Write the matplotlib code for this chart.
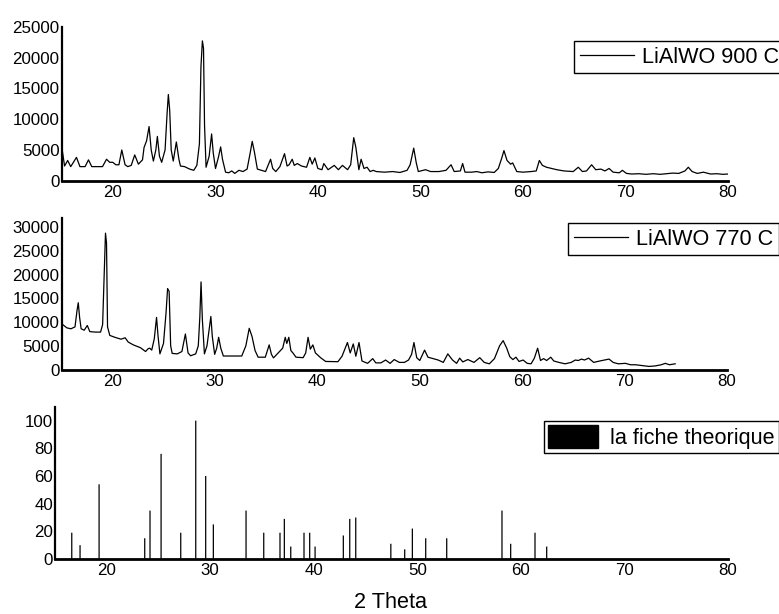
import matplotlib
matplotlib.use('Agg')
import matplotlib.pyplot as plt
from matplotlib import font_manager
from matplotlib.patches import Patch

# ---------------- data ----------------
two_theta_900 = [15.07, 15.3, 15.6, 15.9, 16.46, 16.8, 17.3, 17.63, 17.95, 19.0, 19.39, 19.7, 20.0, 20.3,
                 20.6, 20.88, 21.2, 21.46, 21.8, 22.14, 22.5, 22.9, 23.05, 23.3, 23.54, 23.75, 23.96, 24.2,
                 24.35, 24.55, 24.77, 25.1, 25.3, 25.42, 25.55, 25.7, 25.9, 26.2, 26.45, 26.6, 27.0, 27.5,
                 27.9, 28.2, 28.45, 28.6, 28.74, 28.85, 28.95, 29.1, 29.4, 29.64, 29.8, 30.02, 30.3, 30.52,
                 30.7, 31.0, 31.3, 31.6, 31.9, 32.3, 32.7, 33.1, 33.4, 33.6, 33.8, 34.1, 34.5, 34.9, 35.39,
                 35.6, 35.9, 36.3, 36.75, 37.0, 37.2, 37.5, 37.7, 38.0, 38.4, 38.9, 39.22, 39.45, 39.71, 40.0,
                 40.4, 40.58, 41.0, 41.6, 42.0, 42.4, 42.9, 43.2, 43.5, 43.7, 44.0, 44.22, 44.5, 44.8, 45.1,
                 45.4, 45.7, 46.5, 47.3, 48.0, 48.7, 49.0, 49.35, 49.6, 49.8, 50.5, 51.0, 51.8, 52.5, 52.99,
                 53.3, 53.9, 54.12, 54.35, 55.0, 55.5, 56.0, 56.6, 57.2, 57.6, 57.9, 58.15, 58.45, 58.8, 59.0,
                 59.4, 60.0, 60.8, 61.3, 61.6, 61.9, 62.3, 62.8, 63.3, 64.0, 64.9, 65.4, 65.8, 66.2, 66.7,
                 67.1, 67.6, 68.0, 68.4, 68.8, 69.4, 69.7, 70.1, 70.6, 71.3, 72.0, 72.7, 73.4, 74.0, 74.6,
                 75.2, 75.8, 76.13, 76.5, 77.0, 77.6, 78.3, 78.9, 79.5, 80.0]
intensity_900 = [5000, 2400, 3300, 2300, 3800, 2300, 2300, 3400, 2300, 2300, 3500, 3000, 3000, 2600,
                 2600, 5000, 2600, 2300, 2500, 4200, 2700, 3400, 5400, 6500, 8800, 5000, 3200, 5000,
                 7200, 4000, 3000, 5000, 11000, 14000, 11500, 5000, 3200, 6300, 3500, 2400, 2300, 1900,
                 1700, 2500, 6000, 18500, 22700, 21500, 9000, 2200, 4000, 7600, 4500, 2000, 3800, 5500,
                 3500, 1400, 1300, 1600, 1200, 1700, 1500, 1900, 4500, 6400, 4800, 1900, 1700, 1500, 3500,
                 2000, 1500, 2300, 4400, 2400, 2600, 3500, 2500, 2800, 2400, 2200, 3800, 2700, 3700, 2000,
                 1800, 2800, 1800, 2500, 1800, 2500, 1800, 2600, 7000, 5500, 1800, 3500, 2000, 2200, 1500,
                 1700, 1500, 1400, 1500, 1350, 1700, 2600, 5300, 2900, 1500, 1800, 1500, 1500, 1700, 2600,
                 1500, 1600, 2800, 1400, 1400, 1500, 1300, 1450, 1350, 2000, 3500, 4900, 3300, 2700, 2900,
                 1500, 1400, 1500, 1600, 3300, 2500, 2200, 2000, 1800, 1600, 1500, 2200, 1500, 1600, 2600,
                 1800, 1900, 1600, 2000, 1400, 1300, 1700, 1200, 1100, 1150, 1050, 1150, 1050, 1150, 1250,
                 1200, 1600, 2200, 1500, 1200, 1400, 1100, 1150, 1050, 1100]

two_theta_770 = [15.15, 15.5, 15.9, 16.3, 16.5, 16.62, 16.75, 16.9, 17.2, 17.5, 17.75, 18.3, 18.8, 19.0,
                 19.15, 19.28, 19.38, 19.48, 19.7, 20.2, 20.8, 21.2, 21.5, 22.0, 22.7, 23.2, 23.45, 23.6,
                 23.8, 24.05, 24.27, 24.42, 24.6, 24.95, 25.2, 25.35, 25.5, 25.65, 25.8, 26.3, 26.75, 27.09,
                 27.35, 27.6, 28.1, 28.35, 28.5, 28.62, 28.75, 28.95, 29.2, 29.58, 29.72, 29.95, 30.15,
                 30.34, 30.55, 30.8, 32.6, 33.0, 33.33, 33.6, 33.9, 34.2, 34.9, 35.28, 35.5, 35.7, 36.3,
                 36.6, 36.85, 37.0, 37.2, 37.4, 37.6, 37.9, 38.6, 38.85, 39.08, 39.3, 39.55, 39.8, 40.3,
                 40.8, 42.0, 42.4, 42.93, 43.2, 43.5, 43.75, 44.06, 44.35, 44.9, 45.4, 45.7, 46.2, 46.66,
                 47.1, 47.5, 48.0, 48.5, 48.9, 49.2, 49.43, 49.7, 50.0, 50.47, 50.8, 51.3, 51.8, 52.3,
                 52.74, 53.2, 53.6, 53.9, 54.2, 54.7, 55.3, 55.86, 56.3, 56.8, 57.3, 57.8, 58.15, 58.5,
                 58.8, 59.1, 59.4, 59.7, 60.1, 60.5, 60.88, 61.2, 61.52, 61.8, 62.1, 62.4, 62.8, 63.1,
                 63.6, 64.2, 64.8, 65.2, 65.5, 65.8, 66.1, 66.5, 67.0, 67.6, 68.5, 68.9, 69.4, 70.1, 70.6,
                 71.1, 71.8, 72.4, 73.0, 73.6, 74.0, 74.4, 74.96]
intensity_770 = [9400, 8800, 8600, 9000, 12500, 14100, 11000, 8600, 8300, 9300, 8000, 7900, 7900, 9500,
                 20000, 28800, 26700, 9000, 7200, 6800, 6400, 6700, 5800, 5200, 4600, 3800, 4400, 4500,
                 4100, 6500, 11000, 7000, 3300, 5500, 12000, 17100, 16500, 5000, 3400, 3300, 3800, 7500,
                 3500, 2900, 3300, 5000, 11000, 18500, 10500, 3300, 5000, 11200, 7000, 3200, 4500,
                 6800, 4500, 2850, 2850, 5000, 8700, 7000, 4000, 2600, 2600, 5200, 3200, 2450, 3800,
                 4500, 6800, 5500, 6800, 4000, 3500, 2600, 2500, 3500, 6800, 4300, 5200, 3500, 2500,
                 1700, 1650, 2800, 5700, 3500, 5400, 2800, 5700, 1800, 1300, 2300, 1400, 1400, 2000,
                 1300, 2100, 1500, 1500, 2000, 3200, 5700, 2500, 1900, 4100, 2600, 2300, 2000, 1500,
                 3300, 2000, 1300, 2400, 1600, 2100, 1500, 2500, 1500, 1200, 2300, 5000, 6100, 4500,
                 2700, 2100, 2600, 1700, 2000, 1300, 1200, 2400, 4500, 1900, 2300, 1900, 2600, 1800,
                 1500, 1200, 1500, 2000, 1900, 2200, 2000, 2400, 1500, 1800, 2200, 1500, 1200, 1300, 1000,
                 1000, 800, 650, 750, 1000, 1300, 1000, 1200]

ref_positions = [16.62, 17.42, 19.26, 23.67, 24.18, 25.25, 27.15, 28.6, 29.56, 30.3, 33.46, 35.17,
                 36.74, 37.16, 37.78, 39.06, 39.61, 40.13, 42.86, 43.48, 44.06, 47.45, 48.79, 49.53,
                 50.82, 52.85, 58.19, 59.03, 61.38, 62.51]
ref_heights = [19, 10, 54, 15, 35, 76, 19, 100, 60, 25, 35, 19,
               19, 29, 9, 19, 19, 9, 17, 29, 30, 11, 7, 22,
               15, 15, 35, 11, 19, 9]

x_ticks = [20, 30, 40, 50, 60, 70, 80]
y_ticks_900 = [0, 5000, 10000, 15000, 20000, 25000]
y_ticks_770 = [0, 5000, 10000, 15000, 20000, 25000, 30000]
y_ticks_ref = [0, 20, 40, 60, 80, 100]
label_900 = 'LiAlWO 900 C'
label_770 = 'LiAlWO 770 C'
label_ref = 'la fiche theorique'
x_label = '2 Theta'

# ---------------- fonts ----------------
names = {f.name for f in font_manager.fontManager.ttflist}
if 'Liberation Sans Narrow' in names:
    FAM, SC = 'Liberation Sans Narrow', 1.0
else:
    FAM, SC = 'Liberation Sans', 0.84
plt.rcParams['font.family'] = [FAM, 'DejaVu Sans']
tick_fs = 14.5 * SC
leg_fs = 18.5 * SC

W, H = 779, 614
fig = plt.figure(figsize=(W / 100, H / 100), dpi=100)


def rect(left, right, bottom, top):
    return [left / W, 1 - bottom / H, (right - left) / W, (bottom - top) / H]


def style(ax, yticks, ylim):
    ax.set_xlim(15, 80)
    ax.set_ylim(*ylim)
    ax.set_xticks(x_ticks)
    ax.set_yticks(yticks)
    for s in ['top', 'right']:
        ax.spines[s].set_visible(False)
    ax.spines['left'].set_linewidth(1.6)
    ax.spines['bottom'].set_linewidth(2.0)
    ax.tick_params(axis='both', length=0, labelsize=tick_fs)
    ax.tick_params(axis='y', pad=1.5)
    ax.tick_params(axis='x', pad=3)
    ax.patch.set_alpha(0)


def add_legend(ax, x, y, borderpad=0.26, **kw):
    leg = ax.legend(loc='upper left', bbox_to_anchor=(x / W, 1 - y / H),
                    bbox_transform=fig.transFigure, borderaxespad=0, frameon=True,
                    fancybox=False, framealpha=1, edgecolor='black', fontsize=leg_fs,
                    borderpad=borderpad, **kw)
    leg.get_frame().set_linewidth(1.0)
    return leg


ax1 = fig.add_axes(rect(61.5, 728, 180.8, 26.7))
ax1.plot(two_theta_900, intensity_900, color='black', lw=0.9, label=label_900)
style(ax1, y_ticks_900, (0, 25000))
add_legend(ax1, 574, 41, handlelength=2.5, handletextpad=0.4)

ax2 = fig.add_axes(rect(61.7, 726.7, 369.5, 218))
ax2.plot(two_theta_770, intensity_770, color='black', lw=0.9, label=label_770)
style(ax2, y_ticks_770, (0, 32000))
add_legend(ax2, 568, 223, handlelength=2.5, handletextpad=0.4)

ax3 = fig.add_axes(rect(55, 727.7, 559, 406.8))
ax3.bar(ref_positions, ref_heights, width=0.12, color='black', linewidth=0, snap=False)
style(ax3, y_ticks_ref, (0, 110))
add_legend(ax3, 544, 421, borderpad=0.2,
           handles=[Patch(facecolor='black', edgecolor='black', label=label_ref)],
           handlelength=2.3, handleheight=1.25, handletextpad=0.55)

fig.text(391 / W, 1 - 603 / H, x_label, ha='center', va='center', fontsize=leg_fs)

fig.savefig('out.png', dpi=100)
